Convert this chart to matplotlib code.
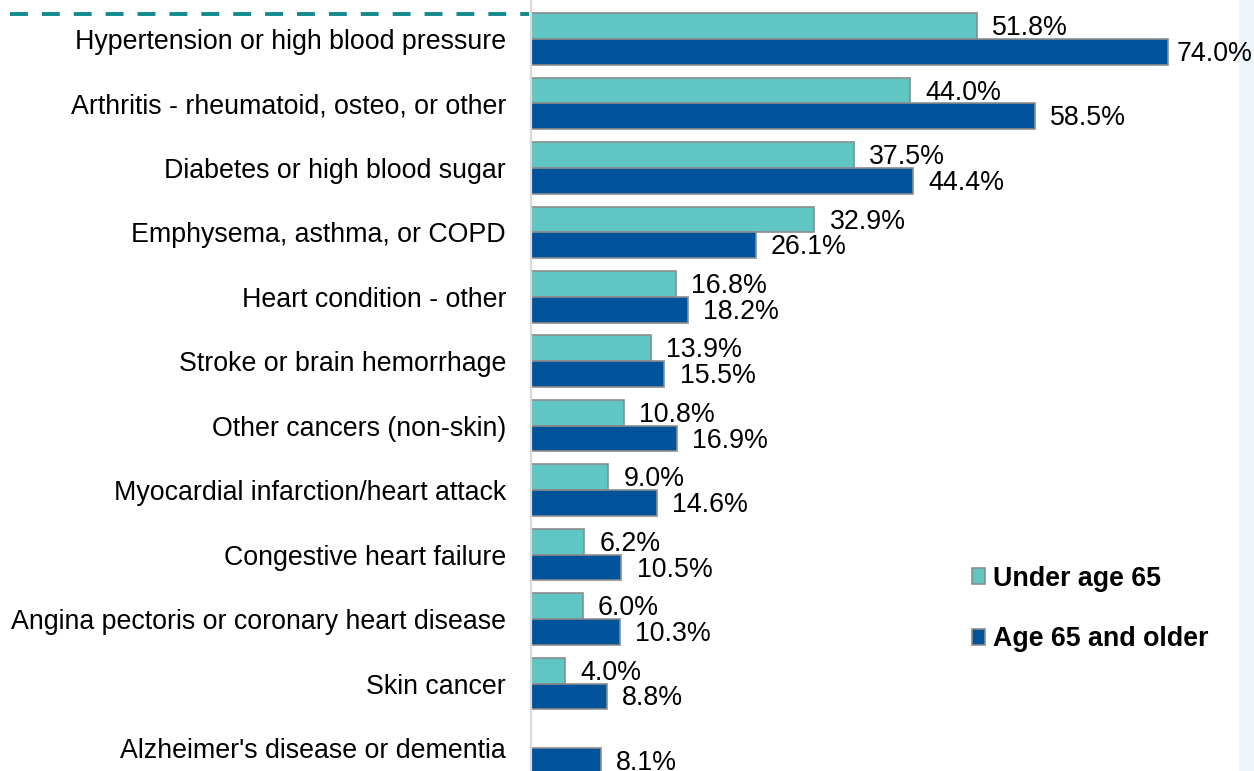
import matplotlib
matplotlib.use("Agg")
import matplotlib.pyplot as plt
from matplotlib.patches import Patch, Rectangle
from matplotlib.lines import Line2D
import numpy as np

plt.rcParams['font.family'] = ['Liberation Sans', 'DejaVu Sans']

conditions = [
    "Hypertension or high blood pressure",
    "Arthritis - rheumatoid, osteo, or other",
    "Diabetes or high blood sugar",
    "Emphysema, asthma, or COPD",
    "Heart condition - other",
    "Stroke or brain hemorrhage",
    "Other cancers (non-skin)",
    "Myocardial infarction/heart attack",
    "Congestive heart failure",
    "Angina pectoris or coronary heart disease",
    "Skin cancer",
    "Alzheimer's disease or dementia",
]
under_65 = [51.8, 44.0, 37.5, 32.9, 16.8, 13.9, 10.8, 9.0, 6.2, 6.0, 4.0, None]
age_65_plus = [74.0, 58.5, 44.4, 26.1, 18.2, 15.5, 16.9, 14.6, 10.5, 10.3, 8.8, 8.1]
series_names = ["Under age 65", "Age 65 and older"]

TEAL = "#5FC6C4"
BLUE = "#00539B"
EDGE = "#8C8C8C"
FS = 19.3

W, H = 1254, 771
fig = plt.figure(figsize=(W / 100, H / 100), dpi=100)
fig.patch.set_facecolor("white")

# light panel strip on the right edge, behind everything else
fig.patches.append(Rectangle((1239 / W, 0), 1 - 1239 / W, 1, transform=fig.transFigure,
                             facecolor="#EEF4F8", edgecolor="none", zorder=-5))

ax_left, ax_right = 531, 1239
ax = fig.add_axes([ax_left / W, 0, (ax_right - ax_left) / W, 1])
ax.set_zorder(1)
px_per_unit = 8.61
ax.set_xlim(0, (ax_right - ax_left) / px_per_unit)
row_px = 64.45
top_center = 39
ax.set_ylim((H - top_center) / row_px, -top_center / row_px)
ax.set_facecolor("none")

y = np.arange(len(conditions))
bh = 0.4
u_vals = [v if v is not None else 0 for v in under_65]
u_mask = [v is not None for v in under_65]

bars_u = ax.barh(y[u_mask] - bh / 2, np.array(u_vals)[u_mask], height=bh,
                 color=TEAL, edgecolor=EDGE, linewidth=1.2)
bars_o = ax.barh(y + bh / 2, age_65_plus, height=bh,
                 color=BLUE, edgecolor=EDGE, linewidth=1.2)

ax.set_yticks(y)
ax.set_yticklabels(conditions, fontsize=FS, color="black")
ax.tick_params(axis="y", length=0, pad=18)
ax.set_xticks([])
for s in ["top", "right", "bottom"]:
    ax.spines[s].set_visible(False)
ax.spines["left"].set_color("#D9D9D9")
ax.spines["left"].set_linewidth(1.6)

labels = []
for yc, v in zip(y[u_mask] - bh / 2, np.array(u_vals)[u_mask]):
    labels.append(ax.annotate(f"{v:.1f}%", (v, yc), xytext=(11, -1.5), textcoords="offset points",
                              va="center", ha="left", fontsize=FS, color="black",
                              annotation_clip=False))
for yc, v in zip(y + bh / 2, age_65_plus):
    labels.append(ax.annotate(f"{v:.1f}%", (v, yc), xytext=(11, -1.5), textcoords="offset points",
                              va="center", ha="left", fontsize=FS, color="black",
                              annotation_clip=False))

# keep value labels inside the canvas
fig.canvas.draw()
renderer = fig.canvas.get_renderer()
for t in labels:
    bb = t.get_window_extent(renderer)
    if bb.x1 > W - 2:
        shift = (bb.x1 - (W - 2)) * 72 / 100
        ox, oy = t.xyann
        t.xyann = (ox - shift, oy)

# dashed rule at top left
fig.add_artist(Line2D([10 / W, 529 / W], [1 - 14 / H, 1 - 14 / H], transform=fig.transFigure,
                      color="#14898D", linewidth=2.8, linestyle=(0, (4.6, 3.6))))

handles = [Patch(facecolor=TEAL, edgecolor=EDGE, linewidth=1.2),
           Patch(facecolor=BLUE, edgecolor=EDGE, linewidth=1.2)]
leg = fig.legend(handles, series_names, loc="center left",
                 bbox_to_anchor=(972 / W, 1 - 609 / H), frameon=False,
                 prop={"size": FS, "weight": "bold"}, handlelength=0.5, handleheight=0.5,
                 handletextpad=0.3, labelspacing=1.3, borderpad=0, borderaxespad=0)

fig.savefig("out.png", dpi=100)
